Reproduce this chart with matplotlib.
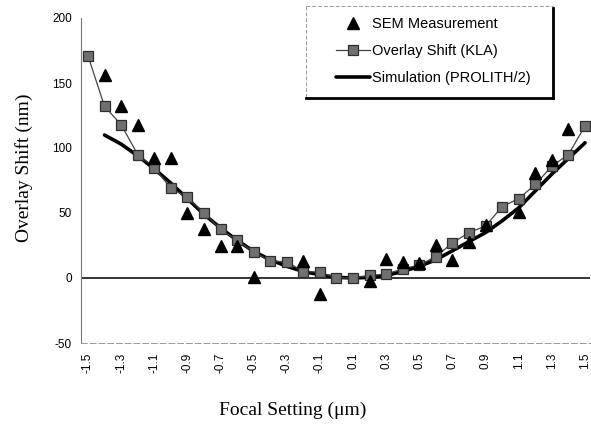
import numpy as np
import matplotlib.pyplot as plt
from matplotlib.lines import Line2D

# focal settings (um)
focus = [-1.5, -1.4, -1.3, -1.2, -1.1, -1.0, -0.9, -0.8, -0.7, -0.6, -0.5,
         -0.4, -0.3, -0.2, -0.1, 0.0, 0.1, 0.2, 0.3, 0.4, 0.5,
         0.6, 0.7, 0.8, 0.9, 1.0, 1.1, 1.2, 1.3, 1.4, 1.5]

# overlay shift measured by KLA (nm)
kla = [171, 132, 118, 95, 85, 69, 62, 50, 37.5, 29, 20,
       13, 12.5, 5, 4.5, 0, 0, 2, 3, 7, 10,
       16.5, 27, 35, 40, 55, 61, 72, 86, 95, 117]

# SEM measurement (nm)
sem_focus = [-1.4, -1.3, -1.2, -1.1, -1.0, -0.9, -0.8, -0.7, -0.6, -0.5,
             -0.2, -0.1, 0.2, 0.3, 0.4, 0.5, 0.6, 0.7, 0.8, 0.9,
             1.1, 1.2, 1.3, 1.4]
sem = [156, 132, 118, 92, 92, 50, 37.5, 25, 25, 1,
       13, -12.5, -2, 15, 12.5, 11.5, 25.5, 14, 27.5, 41,
       50.5, 80.5, 91, 115]

# PROLITH/2 simulation (nm)
sim_focus = [-1.4, -1.3, -1.2, -1.1, -1.0, -0.9, -0.8, -0.7, -0.6, -0.5,
             -0.4, -0.3, -0.2, -0.1, 0.0, 0.1, 0.2, 0.3, 0.4, 0.5,
             0.6, 0.7, 0.8, 0.9, 1.0, 1.1, 1.2, 1.3, 1.4, 1.5]
sim = [110, 103, 94, 84, 73, 61, 49, 38.5, 29, 20.5,
       14, 9, 5, 2.5, 0.5, 0, 0.5, 2, 5, 9,
       14, 21, 28, 35, 44, 54, 67, 80, 92, 104]

xticks = [-1.5, -1.3, -1.1, -0.9, -0.7, -0.5, -0.3, -0.1,
          0.1, 0.3, 0.5, 0.7, 0.9, 1.1, 1.3, 1.5]
yticks = [-50, 0, 50, 100, 150, 200]

W, H = 591, 428
fig = plt.figure(figsize=(W / 100, H / 100), dpi=100)
ax = fig.add_axes([81 / W, 1 - 343 / H, (590 - 81) / W, (343 - 18) / H])

ax.axhline(0, color='black', lw=1.1, zorder=1)

ax.plot(sim_focus, sim, color='black', lw=2.6, solid_capstyle='round',
        zorder=2, label='Simulation (PROLITH/2)')
ax.plot(focus, kla, color='#444444', lw=0.9, marker='s', ms=6.5,
        mfc='#707070', mec='#2e2e2e', mew=0.9, zorder=3,
        label='Overlay Shift (KLA)')
ax.plot(sem_focus, sem, ls='none', marker='^', ms=8.5, color='black',
        zorder=4, label='SEM Measurement')

ax.set_xlim(-1.542, 1.53)
ax.set_ylim(-50, 200)
ax.set_xticks(xticks)
ax.set_xticklabels([f'{v:g}' for v in xticks], rotation=90,
                   family='Liberation Sans', fontsize=8.5)
ax.set_yticks(yticks)
ax.set_yticklabels([str(v) for v in yticks], family='Liberation Sans',
                   fontsize=8.5)
ax.tick_params(axis='x', length=0, pad=7)
ax.tick_params(axis='y', length=0, pad=6.5)

for side in ['top', 'right']:
    ax.spines[side].set_visible(False)
ax.spines['left'].set_color('#777777')
ax.spines['left'].set_linewidth(0.8)
ax.spines['bottom'].set_color('#999999')
ax.spines['bottom'].set_linestyle((0, (6, 3)))
ax.spines['bottom'].set_linewidth(0.7)

ax.set_ylabel('Overlay Shift (nm)', family='Liberation Serif', fontsize=14)
ax.yaxis.set_label_coords(-0.094, 0.538)
ax.set_xlabel('Focal Setting (\u03bcm)', family='Liberation Serif',
              fontsize=14)
ax.xaxis.set_label_coords(0.415, -0.182)

# legend entries without frame, box drawn separately
h, l = ax.get_legend_handles_labels()
leg = ax.legend(h[::-1], l[::-1], loc='upper left',
                bbox_to_anchor=(336 / W, 1 - 17 / H),
                bbox_transform=fig.transFigure,
                prop={'family': 'Liberation Sans', 'size': 10.5},
                handlelength=2.35, handletextpad=0.1, labelspacing=0.9,
                borderpad=0, borderaxespad=0, frameon=False)

x0, x1, y0, y1 = 306 / W, 553 / W, 1 - 6 / H, 1 - 98 / H
fig.add_artist(Line2D([x0, x1], [y0, y0], color='#999999', lw=0.7,
                      ls=(0, (4, 2)), transform=fig.transFigure))
fig.add_artist(Line2D([x0, x0], [y0, y1], color='#999999', lw=0.7,
                      ls=(0, (4, 2)), transform=fig.transFigure))
fig.add_artist(Line2D([x1, x1], [y0 - 0.005, y1], color='black', lw=2,
                      transform=fig.transFigure))
fig.add_artist(Line2D([x0, x1], [y1, y1], color='black', lw=2,
                      transform=fig.transFigure))

fig.savefig('out.png', dpi=100)
